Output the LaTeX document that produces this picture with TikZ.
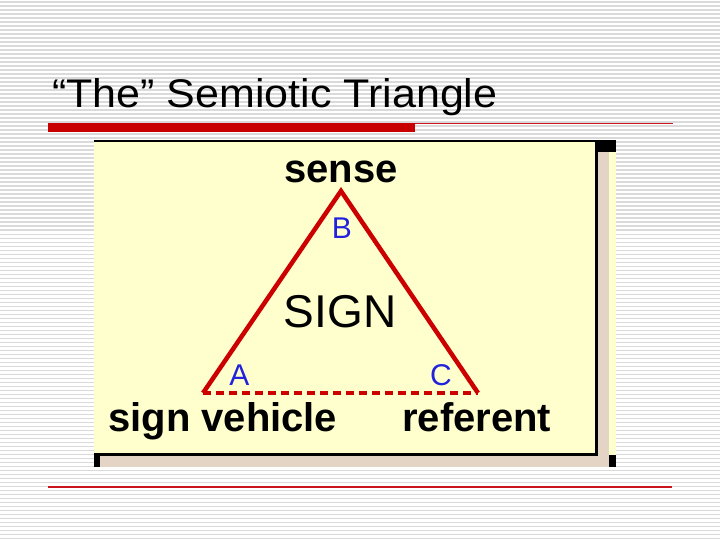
\documentclass[tikz,border=0pt]{standalone}
\usepackage{fontspec}
\setmainfont{Liberation Sans}
\definecolor{stripe}{RGB}{218,218,218}
\definecolor{barred}{RGB}{200,0,0}
\definecolor{thinred}{RGB}{200,20,30}
\definecolor{paneyel}{RGB}{255,255,206}
\definecolor{beige}{RGB}{227,212,198}
\definecolor{trired}{RGB}{204,0,0}
\definecolor{letblue}{RGB}{34,34,220}
\tikzset{
  lbl/.style={anchor=base, inner sep=0pt, font=\fontsize{40}{48}\selectfont\bfseries},
  vtx/.style={anchor=base, inner sep=0pt, text=letblue, font=\fontsize{30}{36}\selectfont},
  side/.style={draw=trired, line width=4.5pt, line join=miter},
}
\begin{document}
\begin{tikzpicture}[x=1pt,y=-1pt]
\useasboundingbox (0,0) rectangle (720,540);
\fill[white] (0,0) rectangle (720,540);
\foreach \i in {0,...,134} \fill[stripe] (0,4*\i+1.5) rectangle (720,4*\i+2.6);
% title
\node[anchor=base west, inner sep=0pt] (title) at (52,108)
  {\fontsize{40}{48}\selectfont\scalebox{1.075}[1]{“The” Semiotic Triangle}};
\fill[barred] (48,123) rectangle (415,132);
\draw[thinred, line width=1.1pt] (415,123.5) -- (673,123.5);
\draw[thinred, line width=1.1pt] (48,487) -- (672,487);
% panel
\fill[white] (94,140) rectangle (616,467);
\fill[paneyel] (94,140) rectangle (595,453);
\fill[paneyel] (609,152) rectangle (616,455);
\fill[beige] (597,152) rectangle (609,467);
\fill[beige] (100,455) rectangle (609,467);
\fill[black] (94,140) rectangle (616,142);
\fill[black] (595,140) rectangle (616,152.5);
\fill[black] (595,140) rectangle (597.5,455);
\fill[black] (94,453) rectangle (597.5,455.5);
\fill[black] (94,453) rectangle (100,467);
\fill[black] (609,455) rectangle (616,467);
% triangle
\coordinate (A) at (203,393);
\coordinate (B) at (341,191);
\coordinate (C) at (478,393);
\draw[side] (A) -- (B) -- (C);
\draw[trired, line width=4.5pt, dash pattern=on 8pt off 5pt] (A) -- (C);
% labels
\node[lbl] (sense) at (341,183) {sense};
\node[lbl, anchor=base west] (vehicle) at (108,431) {sign vehicle};
\node[lbl, anchor=base west] (referent) at (402,431) {referent};
\node[anchor=base, inner sep=0pt, font=\fontsize{46}{54}\selectfont] (sign) at (340,327) {SIGN};
\node[vtx] (la) at (239.5,385) {A};
\node[vtx] (lb) at (342,239) {B};
\node[vtx] (lc) at (441,385) {C};
\end{tikzpicture}
\end{document}
